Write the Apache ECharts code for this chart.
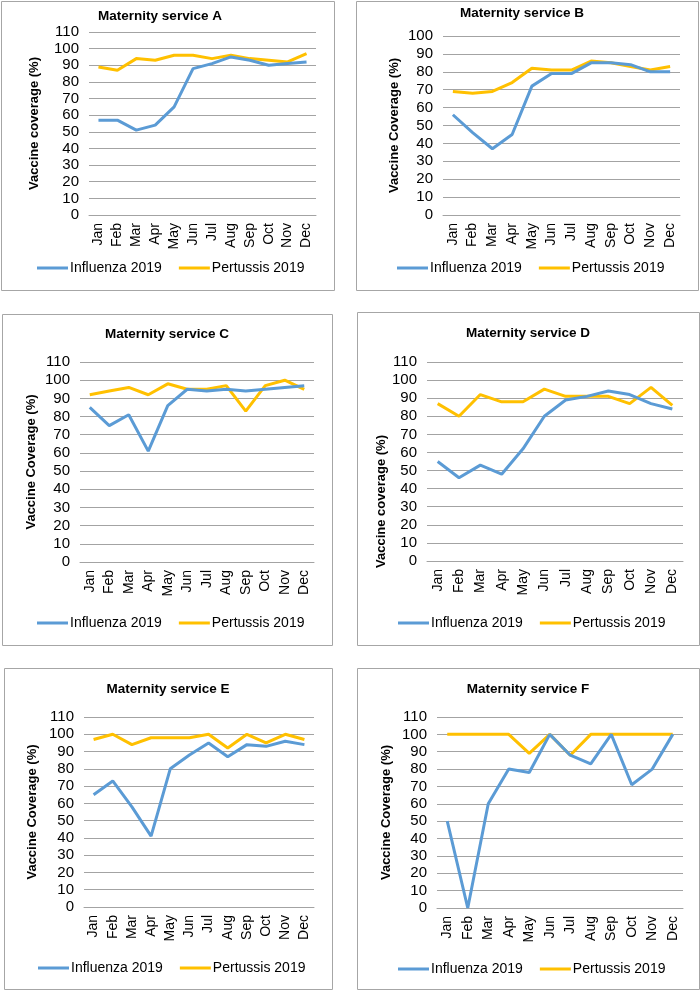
<!DOCTYPE html>
<html>
<head>
<meta charset="utf-8">
<script src="https://cdn.jsdelivr.net/npm/echarts@6/dist/echarts.min.js"></script>
<style>
html,body{margin:0;padding:0;background:#fff;}
#c{width:700px;height:992px;}
</style>
</head>
<body>
<div id="c"></div>
<script>
const months = ['Jan','Feb','Mar','Apr','May','Jun','Jul','Aug','Sep','Oct','Nov','Dec'];
const seriesNames = ['Influenza 2019','Pertussis 2019'];
const titles = ['Maternity service A','Maternity service B','Maternity service C','Maternity service D','Maternity service E','Maternity service F'];
const yNames = ['Vaccine coverage (%)','Vaccine Coverage (%)','Vaccine Coverage (%)','Vaccine coverage (%)','Vaccine Coverage (%)','Vaccine Coverage (%)'];
const yMax = [110,100,110,110,110,110];

const fluA = [57,57,51,54,65,88,91,95,93,90,91,92];
const pertA = [89,87,94,93,96,96,94,96,94,93,92,97];
const fluB = [56,46,37,45,72,79,79,85,85,84,80,80];
const pertB = [69,68,69,74,82,81,81,86,85,83,81,83];
const fluC = [85,75,81,61,86,95,94,95,94,95,96,97];
const pertC = [92,94,96,92,98,95,95,97,83,97,100,95];
const fluD = [55,46,53,48,62,80,89,91,94,92,87,84];
const pertD = [87,80,92,88,88,95,91,91,91,87,96,86];
const fluE = [65,73,58,41,80,88,95,87,94,93,96,94];
const pertE = [97,100,94,98,98,98,100,92,100,95,100,97];
const fluF = [50,0,60,80,78,100,88,83,100,71,80,100];
const pertF = [100,100,100,100,89,100,88,100,100,100,100,100];

const fluData = [fluA,fluB,fluC,fluD,fluE,fluF];
const pertData = [pertA,pertB,pertC,pertD,pertE,pertF];

// layout per panel
const L = [
  {box:[1,1,333,289], grid:[89,32,227,183], title:[160,9], nameGap:48, namePad:0, legend:[37,261]},
  {box:[356,1,342,289], grid:[443,36,237,179], title:[522,6], nameGap:42, namePad:0, legend:[397,261]},
  {box:[2,314,330,331], grid:[80,362,234,200], title:[167,327], nameGap:42, namePad:0, legend:[37,616]},
  {box:[357,312,342,333], grid:[427,362,256,199], title:[528,326], nameGap:35, namePad:80, legend:[398,616]},
  {box:[4,668,328,321], grid:[84,717,230,190], title:[168,682], nameGap:45, namePad:0, legend:[38,961]},
  {box:[357,668,342,321], grid:[437,717,246,191], title:[528,682], nameGap:44, namePad:0, legend:[398,962]}
];

const FONT = 'Liberation Sans, Arial, sans-serif';
const gridColor = '#A3A3A3';
const option = {
  animation:false,
  backgroundColor:'#fff',
  title:[], grid:[], xAxis:[], yAxis:[], series:[], legend:[], graphic:[]
};
L.forEach((p,i)=>{
  option.graphic.push({type:'rect', shape:{x:p.box[0]+0.5,y:p.box[1]+0.5,width:p.box[2],height:p.box[3]}, style:{fill:'none',stroke:'#A6A6A6',lineWidth:1}, z:-1});
  option.title.push({text:titles[i], left:p.title[0], top:p.title[1], textAlign:'center', padding:0,
    textStyle:{fontFamily:FONT, fontWeight:'bold', fontSize:13.5, color:'#000'}});
  option.grid.push({left:p.grid[0], top:p.grid[1], width:p.grid[2], height:p.grid[3], containLabel:false});
  option.xAxis.push({type:'category', gridIndex:i, data:months, boundaryGap:true,
    axisLine:{show:true, lineStyle:{color:gridColor, width:1}}, axisTick:{show:false},
    axisLabel:{rotate:90, margin:8, interval:0, fontSize:14, color:'#000', fontFamily:FONT}});
  option.yAxis.push({type:'value', gridIndex:i, min:0, max:yMax[i], interval:10,
    name:yNames[i], nameLocation:'middle', nameGap:p.nameGap, nameRotate:90,
    nameTextStyle:{fontWeight:'bold', fontSize:13, color:'#000', fontFamily:FONT, padding:[0,p.namePad,0,0]},
    axisLine:{show:false}, axisTick:{show:false},
    axisLabel:{fontSize:15, color:'#000', margin:10, fontFamily:FONT},
    splitLine:{show:true, lineStyle:{color:gridColor, width:1}}});
  option.series.push({name:seriesNames[0], type:'line', xAxisIndex:i, yAxisIndex:i, data:fluData[i],
    symbol:'none', lineStyle:{color:'#5B9BD5', width:3}, itemStyle:{color:'#5B9BD5'}, z:3});
  option.series.push({name:seriesNames[1], type:'line', xAxisIndex:i, yAxisIndex:i, data:pertData[i],
    symbol:'none', lineStyle:{color:'#FFC000', width:3}, itemStyle:{color:'#FFC000'}, z:2});
  option.legend.push({data:seriesNames, left:p.legend[0], top:p.legend[1], orient:'horizontal', padding:0,
    icon:'rect', itemWidth:31, itemHeight:3, itemGap:17,
    textStyle:{fontSize:14, color:'#000', fontFamily:FONT, padding:[0,0,0,-3]}});
});
const chart = echarts.init(document.getElementById('c'), null, {renderer:'canvas'});
chart.setOption(option);
</script>
</body>
</html>
